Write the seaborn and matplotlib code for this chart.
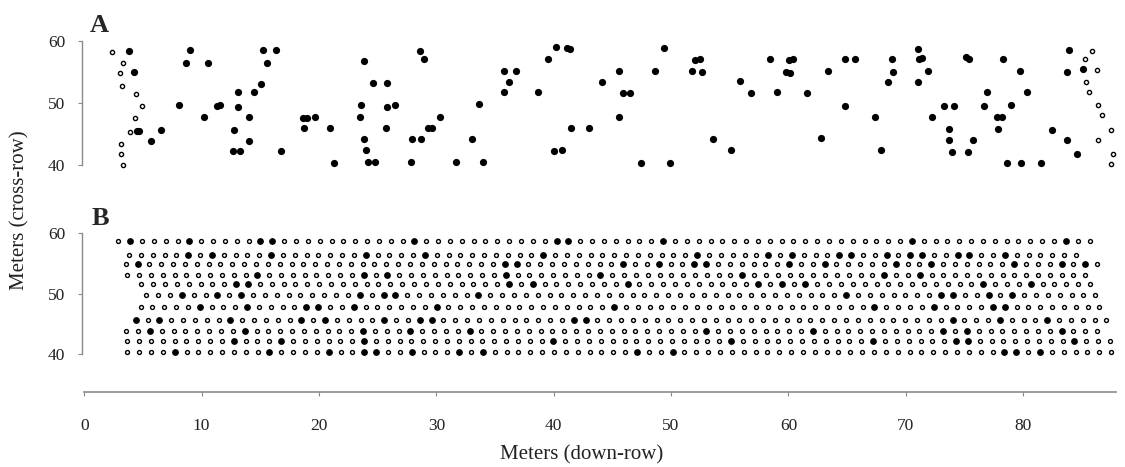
import numpy as np
import pandas as pd
import matplotlib
matplotlib.use('Agg')
import matplotlib.pyplot as plt
import seaborn as sns

sns.set_style('white')
plt.rcParams['font.family'] = ['Liberation Serif', 'DejaVu Serif']

# ---- Panel A: diseased plants (filled) ----
A_FILLED_X = [3.8, 9.0, 8.7, 10.5, 4.2, 8.1, 10.2, 11.3, 11.6, 4.5, 4.7, 6.5, 5.7, 13.1, 13.1,
              12.75, 12.7, 13.3, 14.05, 14.05, 14.45, 15.05, 15.2, 15.55, 16.3, 16.8,
              18.65, 19.0, 19.7, 18.7, 20.9, 21.3, 23.8, 23.6, 23.5, 23.8, 24.0, 24.2, 24.8,
              24.6, 25.8, 25.8, 26.5, 25.7, 27.8, 27.9, 28.65, 28.6, 28.95, 29.3, 29.6, 30.3,
              31.7, 33.0, 33.6, 34.0, 35.8, 36.8, 36.2, 35.8, 38.7, 39.5, 40.2, 41.1, 41.4,
              41.5, 40.0, 40.7,
              43.0, 44.1, 45.6, 45.9, 46.5, 45.6, 47.4, 48.6, 49.4, 49.9, 51.8, 52.6, 52.0,
              52.5, 53.6, 55.1, 55.9, 56.8, 58.4, 59.0, 59.8, 60.1, 60.05, 60.4, 61.6, 62.8,
              63.4, 64.8, 64.8, 65.7,
              67.4, 67.9, 68.8, 68.9, 68.5, 71.0, 71.1, 71.35, 71.9, 71.0, 72.2, 73.3, 74.1,
              73.7, 73.65, 75.7, 73.9, 75.3, 75.1, 75.4, 76.9, 76.7, 79.0, 77.8, 78.2, 77.9,
              78.3, 79.7, 80.3, 78.6, 79.8, 81.5, 82.45, 83.9, 83.7, 85.1, 83.7, 84.6]
A_FILLED_Y = [58.4, 58.5, 56.4, 56.4, 54.9, 49.6, 47.7, 49.5, 49.6, 45.4, 45.4, 45.6, 43.9, 51.8, 49.4,
              45.6, 42.3, 42.3, 47.7, 43.8, 51.7, 53.0, 58.5, 56.4, 58.5, 42.3,
              47.5, 47.6, 47.7, 45.9, 45.9, 40.3, 56.8, 49.7, 47.8, 44.2, 42.4, 40.45, 40.45,
              53.25, 53.25, 49.3, 49.6, 45.9, 40.55, 44.2, 44.2, 58.4, 57.05, 45.9, 45.9, 47.7,
              40.45, 44.2, 49.8, 40.45, 55.2, 55.2, 53.4, 51.75, 51.75, 57.0, 59.0, 58.9, 58.7,
              45.9, 42.3, 42.4,
              45.9, 53.4, 55.2, 51.6, 51.6, 47.8, 40.4, 55.1, 58.9, 40.4, 55.1, 55.0, 56.9,
              57.0, 44.2, 42.4, 53.5, 51.6, 57.0, 51.7, 55.0, 54.8, 56.9, 57.0, 51.6, 44.3,
              55.2, 49.45, 57.0, 57.0,
              47.8, 42.4, 57.0, 55.0, 53.3, 58.7, 57.0, 57.2, 55.2, 53.3, 47.8, 49.45, 49.45,
              45.8, 44.1, 44.1, 42.1, 42.1, 57.3, 57.0, 51.8, 49.45, 49.7, 47.8, 47.8, 45.8,
              57.0, 55.1, 51.8, 40.4, 40.4, 40.4, 45.6, 58.55, 55.0, 55.4, 44.0, 41.8]

# Panel A: row-end plants (open)
A_OPEN_X = [2.4, 3.3, 3.05, 3.2, 4.4, 4.9, 4.3, 3.9, 3.1, 3.15, 3.3,
            85.9, 85.3, 86.3, 85.4, 85.6, 86.4, 86.7, 87.5, 86.4, 87.7, 87.5]
A_OPEN_Y = [58.2, 56.4, 54.8, 52.7, 51.5, 49.5, 47.5, 45.3, 43.3, 41.8, 40.0,
            58.4, 57.0, 55.3, 53.3, 51.7, 49.7, 48.0, 45.7, 44.0, 41.8, 40.2]

# ---- Panel B: full planting grid, one entry per row ----
ROW_Y = [58.67, 56.45, 54.86, 53.14, 51.65, 49.73, 47.79, 45.68, 43.81, 42.15, 40.33]
ROW_START = [2.90, 3.81, 3.53, 3.66, 4.86, 5.28, 4.80, 4.38, 3.58, 3.66, 3.66]
ROW_END = [85.66, 84.5, 86.3, 85.3, 85.7, 86.15, 86.5, 87.1, 86.3, 87.4, 87.5]
PLANT_SPACING = 1.013
ROW_FILLED = [
    [3.95, 8.98, 15.03, 16.02, 28.08, 40.2, 41.2, 49.2, 70.5, 83.6],
    [8.86, 10.85, 15.96, 24.0, 29.0, 39.1, 52.2, 58.2, 60.3, 64.3, 65.3, 68.4, 70.4, 71.4, 74.4, 75.4, 78.5],
    [4.57, 35.8, 36.8, 45.9, 48.9, 51.9, 52.9, 60.0, 63.0, 69.1, 72.2, 79.2, 83.25, 85.2],
    [14.8, 23.9, 25.9, 35.98, 43.9, 56.0, 68.2, 71.2],
    [12.98, 13.97, 36.1, 38.2, 46.2, 57.3, 59.3, 61.3, 76.5, 80.5],
    [8.35, 11.4, 13.46, 23.5, 25.5, 26.5, 33.6, 64.85, 72.9, 73.9, 77.0, 79.0],
    [9.86, 13.9, 18.94, 20.0, 23.0, 30.0, 45.1, 67.35, 72.4, 77.5, 78.5],
    [4.38, 6.45, 12.47, 18.57, 20.6, 25.6, 28.65, 29.6, 41.65, 42.7, 74.0, 78.0, 82.0],
    [5.66, 13.75, 23.8, 27.8, 32.85, 53.0, 62.1, 73.2, 75.2, 83.25],
    [12.75, 16.8, 23.8, 39.9, 55.0, 67.3, 74.1, 75.3, 84.3],
    [7.87, 15.88, 20.9, 23.97, 24.96, 28.0, 32.06, 34.05, 47.05, 50.2, 78.5, 79.5, 81.5],
]

X_TICKS = [0, 10, 20, 30, 40, 50, 60, 70, 80]
Y_TICKS = [40, 50, 60]

# build the grid table for panel B
recs = []
for y, x0, x1, filled in zip(ROW_Y, ROW_START, ROW_END, ROW_FILLED):
    n = int(round((x1 - x0) / PLANT_SPACING)) + 1
    xs = np.linspace(x0, x1, n)
    status = np.zeros(n, dtype=bool)
    for fx in filled:
        status[np.argmin(np.abs(xs - fx))] = True
    for x, s in zip(xs, status):
        recs.append({'x': x, 'y': y, 'diseased': s})
grid = pd.DataFrame(recs)

dfA_f = pd.DataFrame({'x': A_FILLED_X, 'y': A_FILLED_Y})
dfA_o = pd.DataFrame({'x': A_OPEN_X, 'y': A_OPEN_Y})

W, H = 1125, 467
fig = plt.figure(figsize=(W / 100, H / 100), dpi=100)

XL = (-0.22, 87.94)
left = 81.7 / W
width = (1116.3 - 81.7) / W
axA = fig.add_axes([left, 1 - 171.2 / H, width, (171.2 - 34.5) / H])
axB = fig.add_axes([left, 1 - 391.7 / H, width, (391.7 - 227.3) / H])

axis_grey = '#8a8a8a'

# Panel A
sns.scatterplot(data=dfA_o, x='x', y='y', ax=axA, s=9, facecolor='white',
                edgecolor='black', linewidth=1.0, legend=False, clip_on=False, zorder=3)
sns.scatterplot(data=dfA_f, x='x', y='y', ax=axA, s=27, color='black',
                linewidth=0, legend=False, clip_on=False, zorder=4)
axA.set_xlim(*XL)
axA.set_ylim(39, 61)

# Panel B
g_open = grid[~grid['diseased']]
g_fill = grid[grid['diseased']]
sns.scatterplot(data=g_open, x='x', y='y', ax=axB, s=8, facecolor='white',
                edgecolor='black', linewidth=1.0, legend=False, clip_on=False, zorder=3)
sns.scatterplot(data=g_fill, x='x', y='y', ax=axB, s=24, color='black',
                linewidth=0, legend=False, clip_on=False, zorder=4)
axB.set_xlim(*XL)
axB.set_ylim(33.75, 61)

for ax in (axA, axB):
    for side in ('top', 'right', 'bottom'):
        ax.spines[side].set_visible(False)
    ax.spines['left'].set_bounds(40, 60)
    ax.spines['left'].set_color(axis_grey)
    ax.spines['left'].set_linewidth(1.0)
    ax.set_yticks(Y_TICKS)
    ax.tick_params(axis='y', left=True, direction='out', length=3, width=0.8, color=axis_grey,
                   labelsize=12.5, pad=9, labelcolor='#222222')
    ax.set_xlabel('')
    ax.set_ylabel('')
    ax.set_facecolor('none')

axA.set_xticks([])
axB.spines['bottom'].set_visible(True)
axB.spines['bottom'].set_bounds(0, 87.94)
axB.spines['bottom'].set_color(axis_grey)
axB.spines['bottom'].set_linewidth(1.2)
axB.set_xticks(X_TICKS)
axB.tick_params(axis='x', bottom=True, direction='out', length=3, width=0.8, color=axis_grey,
                labelsize=12.5, pad=16, labelcolor='#222222')

fig.text(90 / W, 1 - 32.3 / H, 'A', fontsize=19, fontweight='bold', ha='left', va='baseline')
fig.text(91.7 / W, 1 - 225 / H, 'B', fontsize=19, fontweight='bold', ha='left', va='baseline')
fig.text(581.5 / W, 1 - 459 / H, 'Meters (down-row)', fontsize=15, ha='center', va='baseline',
         color='#222222')
fig.text(20 / W, 1 - 210.5 / H, 'Meters (cross-row)', fontsize=15, ha='center', va='center',
         rotation=90, color='#222222')

fig.savefig('out.png', dpi=100, facecolor='white')
